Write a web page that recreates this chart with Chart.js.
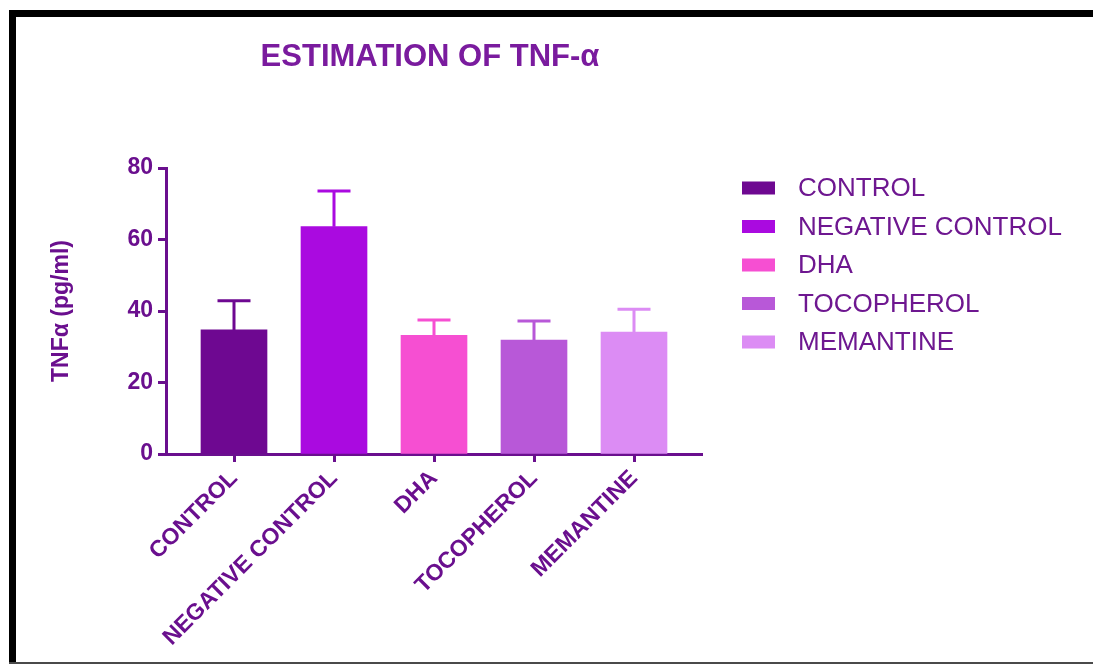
<!DOCTYPE html>
<html>
<head>
<meta charset="utf-8">
<title>Estimation of TNF-α</title>
<script src="https://cdn.jsdelivr.net/npm/chart.js@4.4.1/dist/chart.umd.min.js"></script>
<style>
  html, body { margin: 0; padding: 0; background: #ffffff; }
  #wrap { position: relative; width: 1093px; height: 666px; }
  canvas { display: block; }
</style>
</head>
<body>
<div id="wrap"><canvas id="chart" width="1093" height="666"></canvas></div>
<script>
// Groups and their TNF-α levels (mean and upper SEM), pg/ml
const groups = ['CONTROL', 'NEGATIVE CONTROL', 'DHA', 'TOCOPHEROL', 'MEMANTINE'];
const means = [34.7, 63.6, 33.2, 31.9, 34.1];
const errors = [8.2, 10.0, 4.3, 5.3, 6.4];
const barColors = ['#6e0891', '#aa0ae0', '#f64fd2', '#b858d8', '#dc8cf4'];
const yTicks = [0, 20, 40, 60, 80];

const AXIS = '#6a0f8e';
const TEXT = '#6e1790';
const TITLE = '#7a1b9e';
const FONT = '"Liberation Sans", Arial, sans-serif';

// page frame: white sheet with a heavy black top and left rule
const framePlugin = {
  id: 'frame',
  beforeDraw(chart) {
    const ctx = chart.ctx;
    ctx.save();
    ctx.fillStyle = '#ffffff';
    ctx.fillRect(0, 0, chart.width, chart.height);
    ctx.fillStyle = '#000000';
    ctx.fillRect(9, 10, chart.width - 9, 7);
    ctx.fillRect(9, 10, 7, 653);
    ctx.fillStyle = '#4a4a4a';
    ctx.fillRect(9, 662, chart.width - 9, 2);
    ctx.restore();
  }
};

// upper-only error bars, coloured like their bar
const errorBarPlugin = {
  id: 'upperErrorBars',
  afterDatasetsDraw(chart) {
    const ctx = chart.ctx;
    const xs = chart.scales.x, ys = chart.scales.y;
    ctx.save();
    ctx.lineWidth = 3;
    ctx.lineCap = 'butt';
    means.forEach((m, i) => {
      const x = xs.getPixelForValue(i);
      const yTop = ys.getPixelForValue(m + errors[i]);
      const yBar = ys.getPixelForValue(m);
      ctx.strokeStyle = barColors[i];
      ctx.beginPath();
      ctx.moveTo(x, yBar);
      ctx.lineTo(x, yTop);
      ctx.moveTo(x - 16.5, yTop);
      ctx.lineTo(x + 16.5, yTop);
      ctx.stroke();
    });
    ctx.restore();
  }
};

// title centred over the plot area, and the group legend to its right
const titleLegendPlugin = {
  id: 'titleLegend',
  afterDraw(chart) {
    const ctx = chart.ctx;
    const area = chart.chartArea;
    ctx.save();
    ctx.fillStyle = TITLE;
    ctx.font = 'bold 31px ' + FONT;
    ctx.textAlign = 'center';
    ctx.textBaseline = 'middle';
    ctx.fillText('ESTIMATION OF TNF-α', (area.left + area.right) / 2 - 4, 57);

    ctx.font = '26px ' + FONT;
    ctx.textAlign = 'left';
    groups.forEach((g, i) => {
      const cy = 188 + i * 38.5;
      ctx.fillStyle = barColors[i];
      ctx.fillRect(742, cy - 6.5, 33, 13);
      ctx.fillStyle = TEXT;
      ctx.fillText(g, 798, cy + 1);
    });
    ctx.restore();
  }
};

new Chart(document.getElementById('chart'), {
  type: 'bar',
  data: {
    datasets: [{
      data: means.map((v, i) => ({ x: i, y: v })),
      backgroundColor: barColors,
      borderWidth: 0,
      barThickness: 66
    }]
  },
  options: {
    responsive: false,
    animation: false,
    layout: { padding: { left: 0, top: 168, right: 391, bottom: 0 } },
    plugins: {
      legend: { display: false },
      title: { display: false },
      tooltip: { enabled: false }
    },
    scales: {
      x: {
        type: 'linear',
        offset: false,
        min: -0.68,
        max: 4.68,
        afterBuildTicks(scale) {
          scale.ticks = groups.map((g, i) => ({ value: i }));
        },
        afterFit(scale) { scale.height = 212; },
        ticks: {
          autoSkip: false,
          maxRotation: 45,
          minRotation: 45,
          padding: 3,
          color: AXIS,
          font: { family: FONT, weight: 'bold', size: 23 },
          callback: (v) => groups[v]
        },
        grid: {
          offset: false,
          drawOnChartArea: false,
          drawTicks: true,
          tickLength: 8,
          tickWidth: 3,
          tickColor: AXIS
        },
        border: { display: true, color: AXIS, width: 3 }
      },
      y: {
        min: 0,
        max: 80,
        afterBuildTicks(scale) {
          scale.ticks = yTicks.map(v => ({ value: v }));
        },
        afterFit(scale) { scale.width = 166; },
        ticks: {
          padding: 5,
          color: AXIS,
          font: { family: FONT, weight: 'bold', size: 23 }
        },
        grid: {
          drawOnChartArea: false,
          drawTicks: true,
          tickLength: 8,
          tickWidth: 3,
          tickColor: AXIS
        },
        border: { display: true, color: AXIS, width: 3 },
        title: {
          display: true,
          text: 'TNFα (pg/ml)',
          color: AXIS,
          font: { family: FONT, weight: 'bold', size: 23 },
          padding: { top: 48, bottom: 0 }
        }
      }
    }
  },
  plugins: [framePlugin, errorBarPlugin, titleLegendPlugin]
});
</script>
</body>
</html>
